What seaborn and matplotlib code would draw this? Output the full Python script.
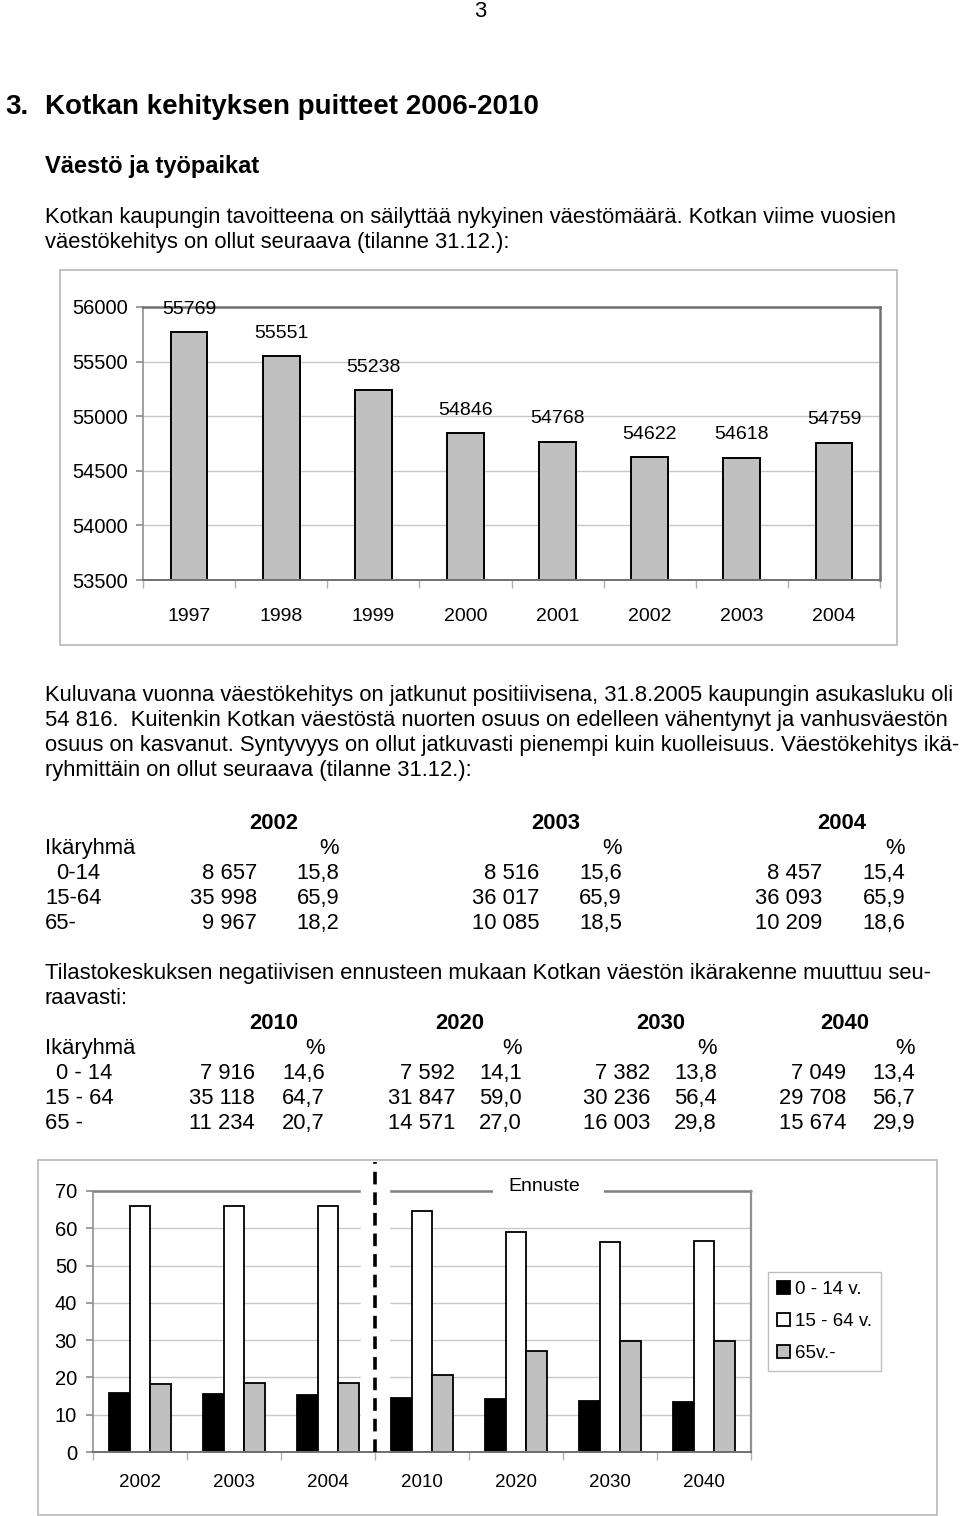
import matplotlib
matplotlib.use("Agg")
import matplotlib.pyplot as plt
from matplotlib.patches import Rectangle
from matplotlib.ticker import FixedLocator
import seaborn as sns
import pandas as pd

sns.set_theme(style="white")
plt.rcParams['font.family'] = ['Liberation Sans', 'DejaVu Sans']
plt.rcParams['text.color'] = 'black'
plt.rcParams['xtick.color'] = 'black'
plt.rcParams['ytick.color'] = 'black'
plt.rcParams['xtick.labelcolor'] = 'black'
plt.rcParams['ytick.labelcolor'] = 'black'

W, H = 960, 1516

# ---------------- data ----------------
pop_years = ["1997", "1998", "1999", "2000", "2001", "2002", "2003", "2004"]
pop_values = [55769, 55551, 55238, 54846, 54768, 54622, 54618, 54759]

age_groups = ["0 - 14 v.", "15 - 64 v.", "65v.-"]
share_years = ["2002", "2003", "2004", "2010", "2020", "2030", "2040"]
share_0_14 = [15.8, 15.6, 15.4, 14.6, 14.1, 13.8, 13.4]
share_15_64 = [65.9, 65.9, 65.9, 64.7, 59.0, 56.4, 56.7]
share_65 = [18.2, 18.5, 18.6, 20.7, 27.0, 29.8, 29.9]

t1_years = ["2002", "2003", "2004"]
t1_rows = ["0-14", "15-64", "65-"]
t1_counts = [["8 657", "35 998", "9 967"],
             ["8 516", "36 017", "10 085"],
             ["8 457", "36 093", "10 209"]]
t1_pct = [["15,8", "65,9", "18,2"],
          ["15,6", "65,9", "18,5"],
          ["15,4", "65,9", "18,6"]]

t2_years = ["2010", "2020", "2030", "2040"]
t2_rows = ["0 - 14", "15 - 64", "65 -"]
t2_counts = [["7 916", "35 118", "11 234"],
             ["7 592", "31 847", "14 571"],
             ["7 382", "30 236", "16 003"],
             ["7 049", "29 708", "15 674"]]
t2_pct = [["14,6", "64,7", "20,7"],
          ["14,1", "59,0", "27,0"],
          ["13,8", "56,4", "29,8"],
          ["13,4", "56,7", "29,9"]]

# ---------------- figure ----------------
fig = plt.figure(figsize=(W / 100, H / 100), dpi=100)
fig.patch.set_facecolor("white")

FS = 15.8
BL = 7  # baseline offset from visual line centre (px)


def T(x, y, s, **kw):
    kw.setdefault("fontsize", FS)
    kw.setdefault("color", "black")
    fig.text(x / W, 1 - (y + BL) / H, s, va="baseline", **kw)


def AX(x0, y0, x1, y1):
    return fig.add_axes([x0 / W, 1 - y1 / H, (x1 - x0) / W, (y1 - y0) / H])


def BOX(x0, y0, x1, y1, color="#b8b8b8"):
    fig.patches.append(Rectangle((x0 / W, 1 - y1 / H), (x1 - x0) / W, (y1 - y0) / H,
                                 transform=fig.transFigure, fill=False,
                                 edgecolor=color, linewidth=1.2))


T(480, 10, "3", ha="center")
T(5, 107, "3.", fontsize=20, fontweight="bold")
T(45, 107, "Kotkan kehityksen puitteet 2006-2010", fontsize=20, fontweight="bold")
T(45, 166, "Väestö ja työpaikat", fontsize=17, fontweight="bold")
T(45, 216, "Kotkan kaupungin tavoitteena on säilyttää nykyinen väestömäärä. Kotkan viime vuosien")
T(45, 241, "väestökehitys on ollut seuraava (tilanne 31.12.):")

# ---------------- top chart ----------------
BOX(60, 270, 897, 645)
ax1 = AX(143, 307, 880, 580)
sns.barplot(x=pop_years, y=pop_values, color="#c0c0c0", edgecolor="black",
            linewidth=1.4, width=0.4, saturation=1, ax=ax1)
ax1.set_ylim(53500, 56000)
ax1.set_yticks([53500, 54000, 54500, 55000, 55500, 56000])
ax1.yaxis.grid(True, color="#c8c8c8", linewidth=1)
ax1.set_axisbelow(True)
for sp in ["top", "right"]:
    ax1.spines[sp].set_color("#707070")
    ax1.spines[sp].set_linewidth(1.8)
ax1.spines["left"].set_color("#909090")
ax1.spines["left"].set_linewidth(1.2)
ax1.spines["bottom"].set_color("#707070")
ax1.spines["bottom"].set_linewidth(1.4)
ax1.tick_params(axis="y", labelsize=14.5, pad=6, length=5, color="#909090",
                labelcolor="black", left=True)
ax1.tick_params(axis="x", labelsize=14, pad=20, length=0, labelcolor="black")
ax1.xaxis.set_minor_locator(FixedLocator([i - 0.5 for i in range(len(pop_years) + 1)]))
ax1.tick_params(axis="x", which="minor", length=6, color="#b0b0b0", bottom=True)
for c in ax1.containers:
    for bar, v in zip(c, pop_values):
        ax1.annotate(str(v), (bar.get_x() + bar.get_width() / 2, v),
                     xytext=(0, 23), textcoords="offset pixels", color="black",
                     ha="center", va="center", fontsize=14, annotation_clip=False)
ax1.set_xlabel("")
ax1.set_ylabel("")
ax1.set_xlim(-0.5, len(pop_years) - 0.5)

# ---------------- paragraph ----------------
T(45, 694, "Kuluvana vuonna väestökehitys on jatkunut positiivisena, 31.8.2005 kaupungin asukasluku oli")
T(45, 719, "54 816.  Kuitenkin Kotkan väestöstä nuorten osuus on edelleen vähentynyt ja vanhusväestön")
T(45, 744, "osuus on kasvanut. Syntyvyys on ollut jatkuvasti pienempi kuin kuolleisuus. Väestökehitys ikä-")
T(45, 769, "ryhmittäin on ollut seuraava (tilanne 31.12.):")

# ---------------- table 1 ----------------
t1_year_x = [274, 556, 842]
t1_cnt_x = [257, 539, 822]
t1_pct_x = [339, 622, 905]
T(45, 847, "Ikäryhmä")
row_y = [872, 897, 922]
row_x = [56, 45, 45]
for lab, y, x in zip(t1_rows, row_y, row_x):
    T(x, y, lab)
for i, yr in enumerate(t1_years):
    T(t1_year_x[i], 822, yr, ha="center", fontweight="bold")
    T(t1_pct_x[i], 847, "%", ha="right")
    for j, y in enumerate(row_y):
        T(t1_cnt_x[i], y, t1_counts[i][j], ha="right")
        T(t1_pct_x[i], y, t1_pct[i][j], ha="right")

# ---------------- table 2 ----------------
T(45, 972, "Tilastokeskuksen negatiivisen ennusteen mukaan Kotkan väestön ikärakenne muuttuu seu-")
T(45, 997, "raavasti:")
t2_year_x = [274, 460, 661, 845]
t2_cnt_x = [255, 455, 650, 846]
t2_pct_x = [325, 522, 717, 915]
T(45, 1047, "Ikäryhmä")
row_y2 = [1072, 1097, 1122]
row_x2 = [56, 45, 45]
for lab, y, x in zip(t2_rows, row_y2, row_x2):
    T(x, y, lab)
for i, yr in enumerate(t2_years):
    T(t2_year_x[i], 1022, yr, ha="center", fontweight="bold")
    T(t2_pct_x[i], 1047, "%", ha="right")
    for j, y in enumerate(row_y2):
        T(t2_cnt_x[i], y, t2_counts[i][j], ha="right")
        T(t2_pct_x[i], y, t2_pct[i][j], ha="right")

# ---------------- bottom chart ----------------
BOX(38, 1160, 937, 1515)
ax2 = AX(93, 1191, 751, 1452)
df = pd.DataFrame({
    "year": share_years * 3,
    "group": [age_groups[0]] * 7 + [age_groups[1]] * 7 + [age_groups[2]] * 7,
    "value": share_0_14 + share_15_64 + share_65,
})
sns.barplot(data=df, x="year", y="value", hue="group", hue_order=age_groups,
            palette=["black", "white", "#c0c0c0"], edgecolor="black",
            linewidth=1.3, width=0.67, saturation=1, ax=ax2)
ax2.set_ylim(0, 70)
ax2.set_yticks(range(0, 71, 10))
ax2.yaxis.grid(True, color="#c8c8c8", linewidth=1)
ax2.set_axisbelow(True)
ax2.spines["top"].set_visible(False)
ax2.axhline(70, color="#808080", linewidth=1.8, zorder=0.7, clip_on=False)
ax2.spines["right"].set_color("#909090")
ax2.spines["right"].set_linewidth(1.6)
ax2.spines["left"].set_color("#909090")
ax2.spines["left"].set_linewidth(1.2)
ax2.spines["bottom"].set_color("#707070")
ax2.spines["bottom"].set_linewidth(1.4)
ax2.tick_params(axis="y", labelsize=14.5, pad=6.5, length=5, color="#909090",
                labelcolor="black", left=True)
ax2.tick_params(axis="x", labelsize=13.5, pad=16, length=0, labelcolor="black")
ax2.xaxis.set_minor_locator(FixedLocator([i - 0.5 for i in range(len(share_years) + 1)]))
ax2.tick_params(axis="x", which="minor", length=6, color="#b0b0b0", bottom=True)
ax2.set_xlabel("")
ax2.set_ylabel("")
# white band behind the forecast divider
ax2.axvspan(2.35, 2.65, ymin=0, ymax=1.02, color="white", zorder=0.8, clip_on=False)
ax2.axvline(2.5, ymin=0.0, ymax=1.11, color="black", linestyle=(0, (3.5, 2.2)),
            linewidth=2.6, clip_on=False, zorder=5)
ax2.add_patch(Rectangle(((493 - 93) / 658, 0.96), (604 - 493) / 658, 0.08,
                        transform=ax2.transAxes, facecolor="white", edgecolor="none",
                        zorder=0.9, clip_on=False))
ax2.text(4.3, 71.3, "Ennuste", ha="center", va="center", fontsize=14,
         color="black", zorder=6)
ax2.set_xlim(-0.5, len(share_years) - 0.5)
leg = ax2.legend(loc="center left", bbox_to_anchor=(1.026, 0.5), frameon=True,
                 fontsize=13.5, handlelength=0.7, handleheight=0.7,
                 handletextpad=0.3, borderpad=0.45, borderaxespad=0,
                 labelspacing=0.8, fancybox=False)
leg.get_frame().set_edgecolor("#b0b0b0")
leg.get_frame().set_linewidth(1.0)
for t in leg.get_texts():
    t.set_color("black")

fig.savefig("out.png", dpi=100, facecolor="white")
